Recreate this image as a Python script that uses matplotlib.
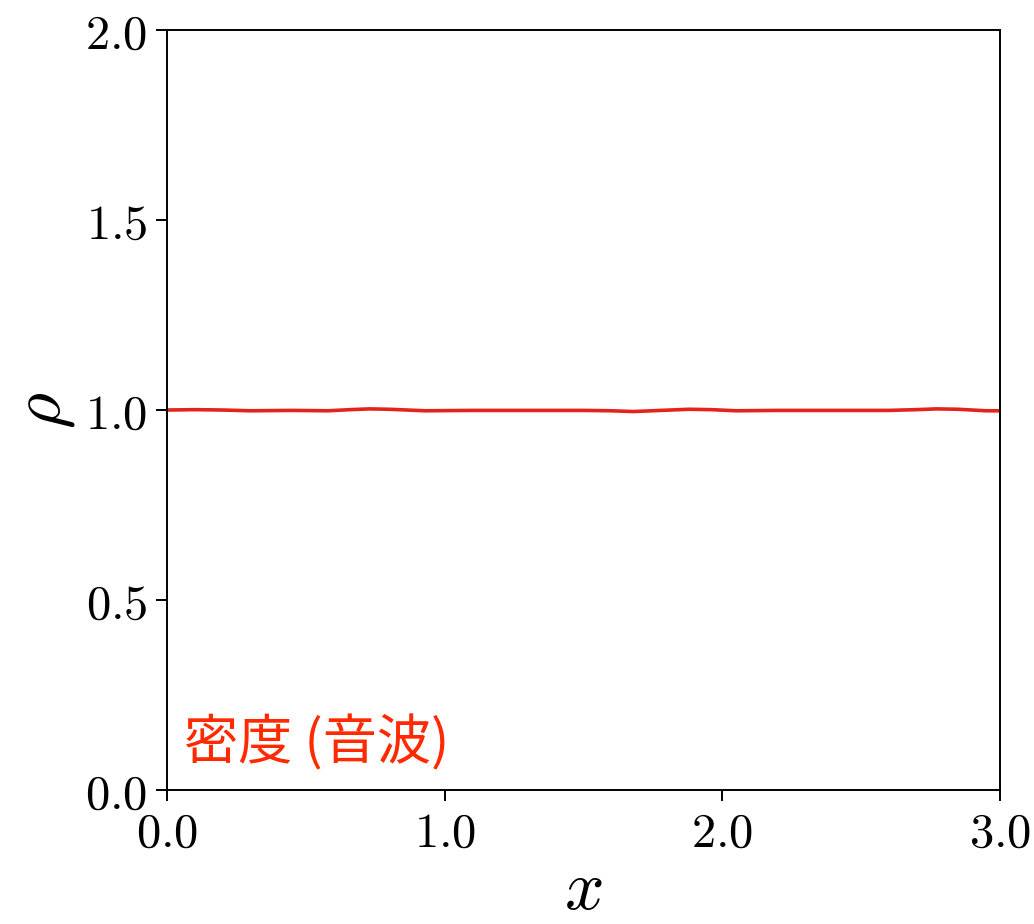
import numpy as np
import matplotlib
matplotlib.use("Agg")
import matplotlib.pyplot as plt
from matplotlib.ticker import FuncFormatter

plt.rcParams['mathtext.fontset'] = 'cm'
plt.rcParams['font.family'] = ['DejaVu Serif']

# density profile (acoustic wave, small wiggles around 1)
x_vals = [0.00, 0.10, 0.20, 0.30, 0.45, 0.58, 0.66, 0.73, 0.80, 0.93, 1.10,
          1.30, 1.50, 1.60, 1.68, 1.78, 1.88, 1.96, 2.05, 2.20, 2.40, 2.60,
          2.70, 2.77, 2.85, 2.95, 3.00]
rho_vals = [1.000, 1.001, 1.000, 0.998, 0.999, 0.998, 1.001, 1.003, 1.002, 0.998, 0.999,
            0.999, 0.999, 0.998, 0.996, 0.999, 1.002, 1.001, 0.998, 0.999, 0.999, 0.999,
            1.001, 1.003, 1.002, 0.998, 0.998]

x_ticks = [0.0, 1.0, 2.0, 3.0]
y_ticks = [0.0, 0.5, 1.0, 1.5, 2.0]
label_text = '密度 (音波)'

fig = plt.figure(figsize=(10.34, 9.24), dpi=100)
ax = fig.add_axes([0.1615, 0.145, 0.8055, 0.8225])

ax.plot(x_vals, rho_vals, color='#e3241b', lw=2.6)

ax.set_xlim(0, 3)
ax.set_ylim(0, 2)
ax.set_xticks(x_ticks)
ax.set_yticks(y_ticks)
fmt = FuncFormatter(lambda v, p: r'$%.1f$' % v)
ax.xaxis.set_major_formatter(fmt)
ax.yaxis.set_major_formatter(fmt)
ax.tick_params(direction='out', length=8, width=1.4, labelsize=35, pad=6)
for s in ax.spines.values():
    s.set_linewidth(1.4)

ax.set_xlabel(r'$x$', fontsize=50, labelpad=0)
ax.set_ylabel(r'$\rho$', fontsize=50, labelpad=6)

ax.text(0.02, 0.025, label_text, transform=ax.transAxes, color='#ff2a00',
        fontsize=39, family=['Noto Sans CJK JP', 'DejaVu Sans'], ha='left', va='bottom')

fig.savefig('out.png', dpi=100)
